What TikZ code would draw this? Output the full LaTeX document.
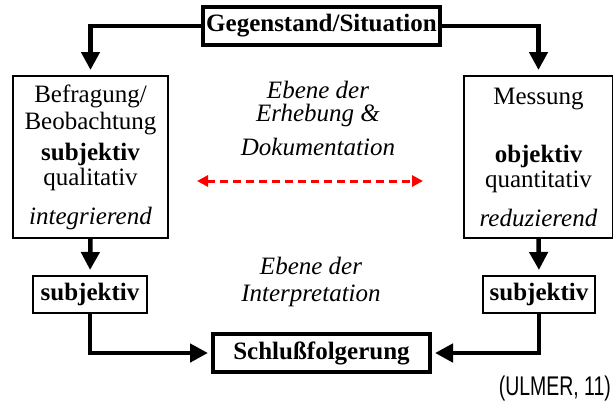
\documentclass[tikz,border=0pt]{standalone}
\usepackage{fontspec}
\setmainfont{Liberation Serif}
\newfontfamily\ulmerfont[FakeStretch=0.72]{Liberation Sans}
\usetikzlibrary{arrows.meta}

\begin{document}
\begin{tikzpicture}[x=1pt,y=-1pt,
	box/.style={draw,line width=2pt,inner sep=0pt,align=center,font=\fontsize{25}{27}\selectfont},
	thickbox/.style={box,line width=4pt,font=\fontsize{25}{27}\selectfont\bfseries},
	conn/.style={line width=4.5pt,-{Triangle[length=18pt,width=18pt]},shorten >=5pt},
	level/.style={align=center,font=\fontsize{25}{27}\selectfont\itshape}]
	\useasboundingbox (0,0) rectangle (613,410);
	% Gegenstand oben
	\node[thickbox,minimum width=237pt,minimum height=38pt] (gegenstand) at (321.5,26) {Gegenstand/Situation};
	% die beiden Zugaenge
	\node[box,minimum width=155pt,minimum height=162pt] (befragung) at (90.5,157)
		{Befragung/\\Beobachtung\\[4pt]\textbf{subjektiv}\\[-2pt]qualitativ\\[12pt]\textit{integrierend}};
	\node[box,minimum width=149pt,minimum height=162pt] (messung) at (538.5,157)
		{Messung\\[31pt]\textbf{objektiv}\\[-2pt]quantitativ\\[12pt]\textit{reduzierend}};
	\node[box,font=\fontsize{25}{27}\selectfont\bfseries,minimum width=114pt,minimum height=37pt] (subjl) at (90,294.5) {subjektiv};
	\node[box,font=\fontsize{25}{27}\selectfont\bfseries,minimum width=112pt,minimum height=37pt] (subjr) at (539,294.5) {subjektiv};
	\node[thickbox,minimum width=217pt,minimum height=38pt] (schluss) at (321.5,353) {Schlußfolgerung};
	% Ebenen
	\node[level] (erhebung) at (318,118) {Ebene der\\[-4pt]Erhebung \&\\[7pt]Dokumentation};
	\node[level] (interpretation) at (311,282) {Ebene der\\Interpretation};
	\coordinate (dokl) at (197,181);
	\coordinate (dokr) at (423,181);
	\draw[red,line width=3pt,dash pattern=on 8pt off 5pt,{Triangle[length=11pt,width=11pt]}-{Triangle[length=11pt,width=11pt]}] (dokl) -- (dokr);
	\node[anchor=east,inner sep=1pt,font=\fontsize{27}{29}\selectfont\ulmerfont] (quelle) at (612,389) {(ULMER, 11)};
	% Verbindungen
	\draw[conn] (gegenstand.west) -| (befragung.north);
	\draw[conn] (gegenstand.east) -| (messung.north);
	\draw[conn] (befragung.south) -- (subjl.north);
	\draw[conn] (messung.south) -- (subjr.north);
	\draw[conn,shorten >=3pt] (subjl.south) |- (schluss.west);
	\draw[conn,shorten >=3pt] (subjr.south) |- (schluss.east);
\end{tikzpicture}
\end{document}
